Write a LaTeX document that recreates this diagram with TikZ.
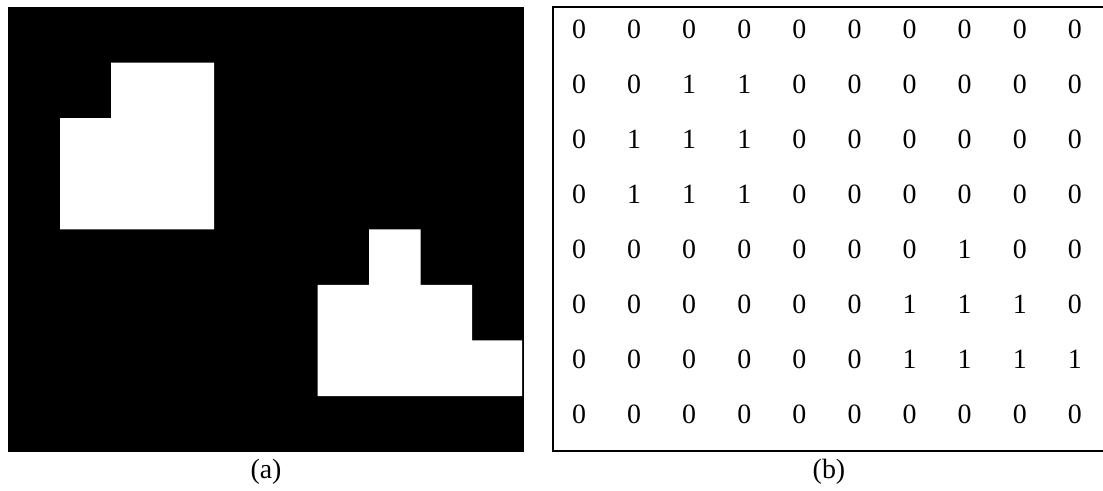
\documentclass[tikz,border=0pt]{standalone}
\usepackage{fontspec}
\setmainfont{Liberation Serif}
\begin{document}
\begin{tikzpicture}[x=1bp,y=-1bp,
  digit/.style={inner sep=0pt,font=\fontsize{28}{32}\selectfont},
  caption/.style={inner sep=0pt,font=\fontsize{28}{32}\selectfont},
  frame/.style={line width=2bp,line cap=rect}]
\useasboundingbox (0,0) rectangle (1103,491);

% (a) binary image: black background with two white regions
\fill[black] (8,7) rectangle (524,452);
\fill[white] (60,118.2) -- (111.2,118.2) -- (111.2,62.6) -- (214,62.6)
  -- (214,229.4) -- (60,229.4) -- cycle;
\fill[white] (317.5,396) -- (317.5,285) -- (369,285) -- (369,229.4)
  -- (420.5,229.4) -- (420.5,285) -- (472,285) -- (472,340.5)
  -- (522,340.5) -- (522,396) -- cycle;
\node[caption] (capA) at (266,472) {(a)};

% (b) the same image as a matrix of values
\draw[frame] (1104,7.5) -- (553,7.5) -- (553,451) -- (1104,451);
\foreach \row [count=\r from 0] in {
  {0,0,0,0,0,0,0,0,0,0},
  {0,0,1,1,0,0,0,0,0,0},
  {0,1,1,1,0,0,0,0,0,0},
  {0,1,1,1,0,0,0,0,0,0},
  {0,0,0,0,0,0,0,1,0,0},
  {0,0,0,0,0,0,1,1,1,0},
  {0,0,0,0,0,0,1,1,1,1},
  {0,0,0,0,0,0,0,0,0,0}} {
  \foreach \v [count=\c from 0] in \row {
    \node[digit] (n-\r-\c) at ({579+55.1*\c},{29+55.1*\r}) {\v};
  }
}
\node[caption] (capB) at (829,472) {(b)};
\end{tikzpicture}
\end{document}
